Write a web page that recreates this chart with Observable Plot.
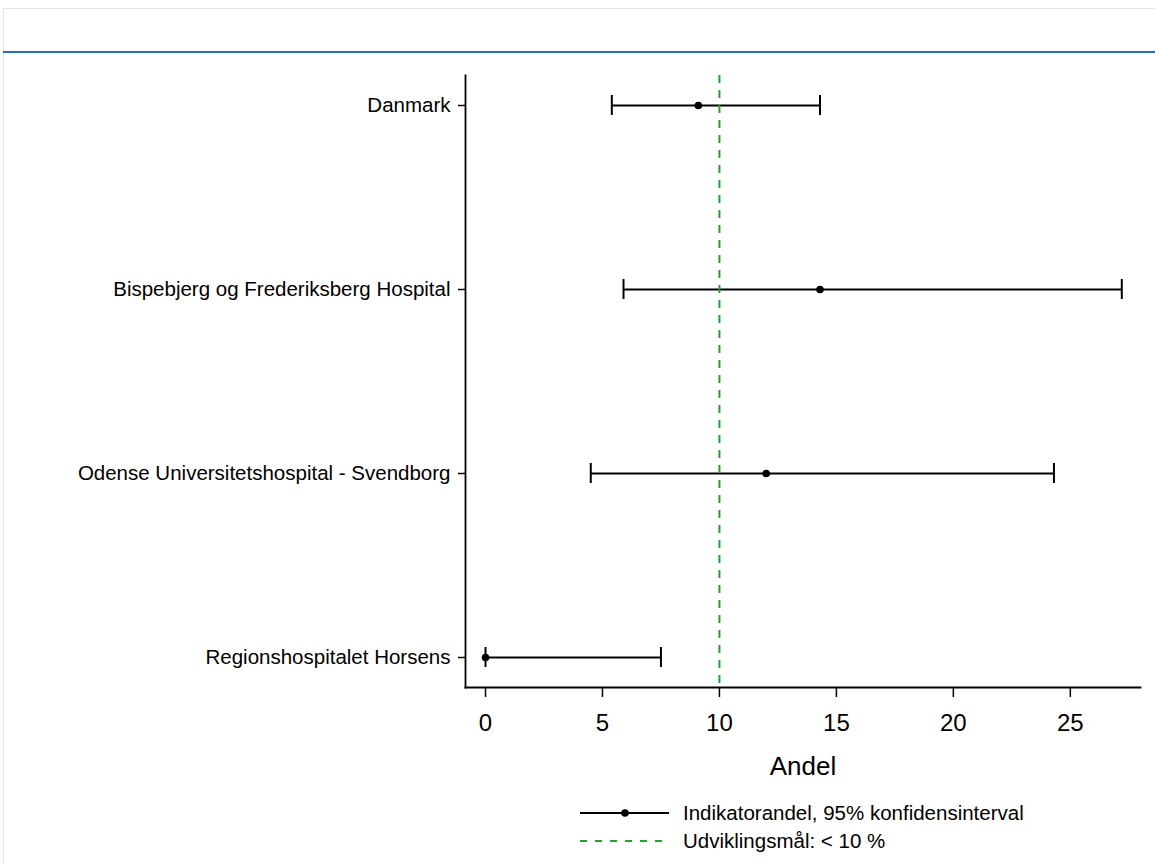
<!DOCTYPE html>
<html>
<head>
<meta charset="utf-8">
<script src="https://cdn.jsdelivr.net/npm/d3@7"></script>
<script src="https://cdn.jsdelivr.net/npm/@observablehq/plot@0.6"></script>
<style>
  html, body { margin: 0; padding: 0; background: #fff; }
  #page { position: relative; width: 1155px; height: 864px; overflow: hidden; font-family: "Liberation Sans", Arial, sans-serif; }
  #frame { position: absolute; left: 3px; top: 8px; right: 0; bottom: 0; border-top: 1px solid #e4e4e4; border-left: 1px solid #e4e4e4; }
  #blue { position: absolute; left: 3px; right: 0; top: 51px; height: 2px; background: #2f6db5; box-shadow: 0 0 1px #8fb2dd; }
  #chart { position: absolute; left: 0; top: 0; }
  #legend { position: absolute; left: 0; top: 800px; }
</style>
</head>
<body>
<div id="page">
  <div id="frame"></div>
  <div id="blue"></div>
  <div id="chart"></div>
  <div id="legend"></div>
</div>
<script>
const categories = [
  "Danmark",
  "Bispebjerg og Frederiksberg Hospital",
  "Odense Universitetshospital - Svendborg",
  "Regionshospitalet Horsens"
];
const andel = [9.1, 14.3, 12.0, 0];
const lower = [5.4, 5.9, 4.5, 0];
const upper = [14.3, 27.2, 24.3, 7.5];
const target = 10;
const xTicks = [0, 5, 10, 15, 20, 25];
const legendLabels = ["Indikatorandel, 95% konfidensinterval", "Udviklingsmål: < 10 %"];

const rows = categories.map((name, i) => ({name, andel: andel[i], lower: lower[i], upper: upper[i]}));
const green = "#2a9d35";

const plot = Plot.plot({
  width: 1155,
  height: 790,
  marginLeft: 465,
  marginRight: 15,
  marginTop: 75,
  marginBottom: 103,
  style: {fontFamily: "'Liberation Sans', Arial, sans-serif", background: "transparent", color: "#000", overflow: "visible"},
  x: {domain: [-0.855, 28]},
  y: {type: "band", domain: categories, paddingInner: 0.8915, paddingOuter: 0.106},
  marks: [
    Plot.frame({anchor: "left", stroke: "#000", strokeWidth: 1.8}),
    Plot.frame({anchor: "bottom", stroke: "#000", strokeWidth: 1.8}),
    Plot.axisY({tickSize: 7, tickPadding: 8, fontSize: 20.5, label: null, strokeWidth: 1.5}),
    Plot.axisX({ticks: xTicks, tickSize: 10, tickPadding: 16, fontSize: 24, label: "Andel", labelAnchor: "center", labelOffset: 87, labelArrow: "none", strokeWidth: 1.5}),
    Plot.ruleY(rows, {y: "name", x1: "lower", x2: "upper", stroke: "#000", strokeWidth: 2}),
    Plot.tickX(rows, {y: "name", x: "lower", stroke: "#000", strokeWidth: 2}),
    Plot.tickX(rows, {y: "name", x: "upper", stroke: "#000", strokeWidth: 2}),
    Plot.dot(rows, {x: "andel", y: "name", r: 3.8, fill: "#000", stroke: "none"}),
    Plot.ruleX([target], {stroke: green, strokeWidth: 2, strokeDasharray: "8,7"})
  ]
});
const lab = plot.querySelector('g[aria-label="x-axis label"]');
if (lab) lab.setAttribute("font-size", 26);
document.getElementById("chart").appendChild(plot);

// legend
const lg = d3.select("#legend").append("svg").attr("width", 1155).attr("height", 64)
  .style("font-family", "'Liberation Sans', Arial, sans-serif");
const r1 = lg.append("g").attr("transform", "translate(0,13)");
r1.append("line").attr("x1", 580).attr("x2", 669).attr("stroke", "#000").attr("stroke-width", 2);
r1.append("circle").attr("cx", 625).attr("r", 3.8).attr("fill", "#000");
r1.append("text").attr("x", 683).attr("dy", "0.35em").attr("font-size", 20.5).text(legendLabels[0]);
const r2 = lg.append("g").attr("transform", "translate(0,41)");
r2.append("line").attr("x1", 580).attr("x2", 669).attr("stroke", green).attr("stroke-width", 2).attr("stroke-dasharray", "7,8");
r2.append("text").attr("x", 683).attr("dy", "0.35em").attr("font-size", 20.5).text(legendLabels[1]);
</script>
</body>
</html>
